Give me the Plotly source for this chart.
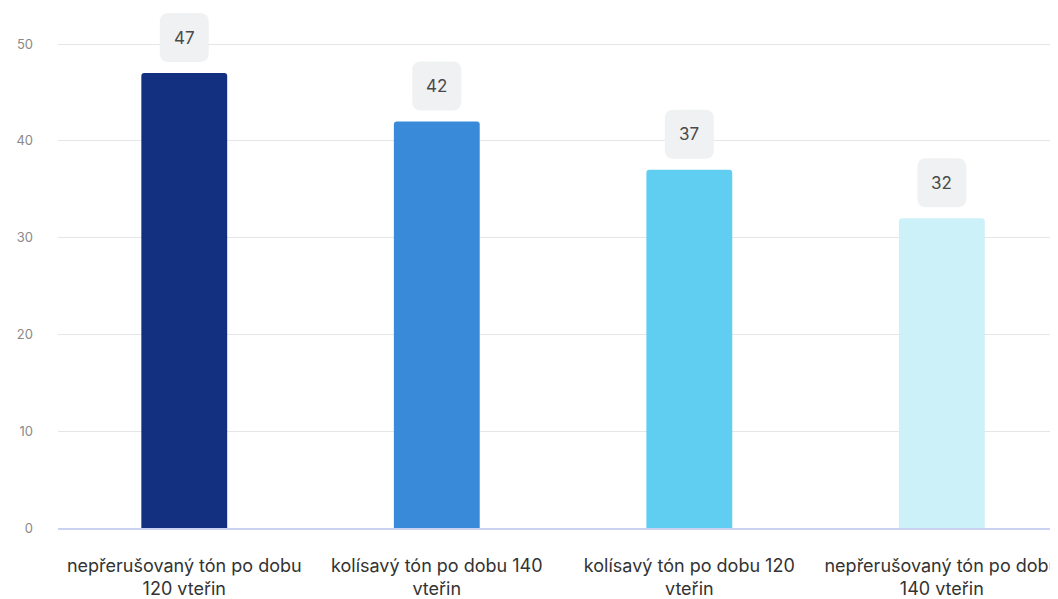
import plotly.graph_objects as go

categories = [
    "nepřerušovaný tón po dobu<br>120 vteřin",
    "kolísavý tón po dobu 140<br>vteřin",
    "kolísavý tón po dobu 120<br>vteřin",
    "nepřerušovaný tón po dobu<br>140 vteřin",
]
values = [47, 42, 37, 32]
colors = ["#12307f", "#398bd9", "#60cef0", "#cdf1f9"]
ytick_vals = [0, 10, 20, 30, 40, 50]

fig = go.Figure()
fig.add_trace(go.Bar(
    x=list(range(len(categories))),
    y=values,
    marker=dict(color=colors, cornerradius=3, line=dict(width=0)),
    width=0.34,
    hoverinfo="skip",
))

def rounded_path(w, h, r, off):
    # pixel path relative to anchor, y positive upward
    x0, x1 = -w / 2, w / 2
    y0, y1 = off, off + h
    return (f"M {x0+r},{y0} L {x1-r},{y0} Q {x1},{y0} {x1},{y0+r} "
            f"L {x1},{y1-r} Q {x1},{y1} {x1-r},{y1} L {x0+r},{y1} "
            f"Q {x0},{y1} {x0},{y1-r} L {x0},{y0+r} Q {x0},{y0} {x0+r},{y0} Z")

shapes = []
annotations = []
for i, v in enumerate(values):
    shapes.append(dict(
        type="path", xref="x", yref="y",
        xsizemode="pixel", ysizemode="pixel",
        xanchor=i, yanchor=v,
        path=rounded_path(49, 49, 9, 11),
        fillcolor="#f0f1f2", line=dict(width=0), layer="above",
    ))
    annotations.append(dict(
        x=i, y=v, xref="x", yref="y", text=str(v), showarrow=False,
        yshift=35.5, font=dict(family="Inter", size=17, color="#4a4a4a"),
    ))

# page has an 8px body margin; figure is sized so it fills the 1058x599 window
fig.update_layout(
    width=1050, height=591,
    margin=dict(l=50, r=0, t=0, b=71),
    paper_bgcolor="white", plot_bgcolor="white",
    showlegend=False,
    font=dict(family="Inter", color="#333333"),
    shapes=shapes, annotations=annotations,
    xaxis=dict(
        range=[-0.5, 3.46],
        tickmode="array", tickvals=list(range(len(categories))), ticktext=categories,
        tickfont=dict(family="Inter", size=18, color="#333333"),
        showgrid=False, zeroline=False,
        showline=True, linecolor="#c9d2f0", linewidth=2,
        ticks="", ticklabelstandoff=20, ticklabeloverflow="allow",
        fixedrange=True,
    ),
    yaxis=dict(
        range=[0, 53.72],
        tickmode="array", tickvals=ytick_vals,
        tickfont=dict(family="Inter", size=13, color="#8a8a8a"),
        showgrid=True, gridcolor="#e6e6e6", gridwidth=1,
        zeroline=False, showline=False,
        ticks="", ticklabelstandoff=24,
        fixedrange=True,
    ),
)

fig.write_html("out.html")
